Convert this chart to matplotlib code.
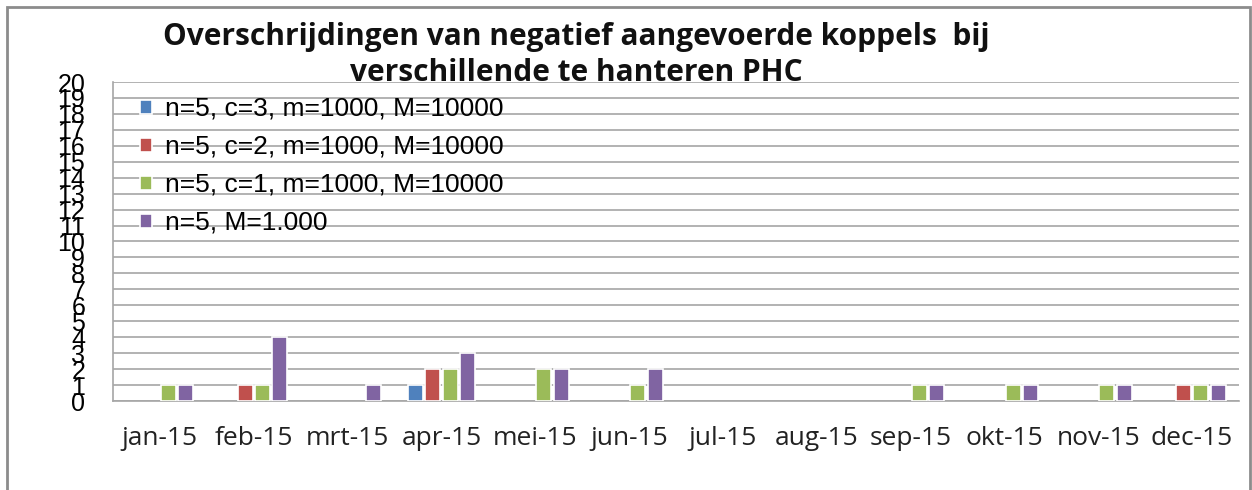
import numpy as np
import matplotlib
matplotlib.use('Agg')
import matplotlib.pyplot as plt
from matplotlib.patches import Rectangle

# data
months = ['jan-15', 'feb-15', 'mrt-15', 'apr-15', 'mei-15', 'jun-15',
          'jul-15', 'aug-15', 'sep-15', 'okt-15', 'nov-15', 'dec-15']
labels = ['n=5, c=3, m=1000, M=10000',
          'n=5, c=2, m=1000, M=10000',
          'n=5, c=1, m=1000, M=10000',
          'n=5, M=1.000']
c3 = [0, 0, 0, 1, 0, 0, 0, 0, 0, 0, 0, 0]
c2 = [0, 1, 0, 2, 0, 0, 0, 0, 0, 0, 0, 1]
c1 = [1, 1, 0, 2, 2, 1, 0, 0, 1, 1, 1, 1]
m1000 = [1, 4, 1, 3, 2, 2, 0, 0, 1, 1, 1, 1]
colors = ['#4F81BD', '#C0504D', '#9BBB59', '#8064A2']
yticks = list(range(0, 21))

fig = plt.figure(figsize=(12.52, 4.9), dpi=100)
# outer chart frame
fig.patches.append(Rectangle((7 / 1252, -0.05), (1250 - 7) / 1252, 1.05 - 7 / 490,
                             transform=fig.transFigure, fill=False,
                             edgecolor='#8c8c8c', linewidth=2))

ax = fig.add_axes([113 / 1252, 1 - 401 / 490, (1239 - 113) / 1252, (401 - 82) / 490])

x = np.arange(len(months))
slot = 0.185
width = 0.16
series = [c3, c2, c1, m1000]
for i, vals in enumerate(series):
    # zero values are not drawn (avoid white edge stubs on the baseline)
    v = np.array(vals, dtype=float)
    v[v == 0] = np.nan
    ax.bar(x + (i - 1.5) * slot, v, width, color=colors[i],
           edgecolor='white', linewidth=1.2, label=labels[i], zorder=3)

ax.set_xlim(-0.5, len(months) - 0.5)
ax.set_ylim(0, 20)
ax.set_yticks(yticks)
ax.set_yticklabels([str(t) for t in yticks], fontsize=18, family='Liberation Sans')
ax.yaxis.grid(True, color='#a6a6a6', linewidth=1.2, zorder=0)
ax.set_xticks(x)
ax.set_xticklabels(months, fontsize=19, family='Open Sans', color='#222222')
ax.tick_params(axis='y', length=0, pad=20)
ax.tick_params(axis='x', length=0, pad=18)
for side in ['top', 'right']:
    ax.spines[side].set_visible(False)
for side in ['left', 'bottom']:
    ax.spines[side].set_color('#a6a6a6')
    ax.spines[side].set_linewidth(1.2)

leg = ax.legend(loc='upper left', bbox_to_anchor=(0.024, 0.953), frameon=False,
                prop={'family': 'Liberation Sans', 'size': 19},
                handlelength=0.44, handleheight=0.44, handletextpad=0.5,
                labelspacing=0.53, borderaxespad=0, borderpad=0)

fig.text(0.46, 0.888, 'Overschrijdingen van negatief aangevoerde koppels  bij\n'
         'verschillende te hanteren PHC', ha='center', va='center',
         fontsize=21.5, fontweight='bold', family='Open Sans',
         linespacing=1.27, color='#111111')

fig.savefig('out.png', dpi=100)
